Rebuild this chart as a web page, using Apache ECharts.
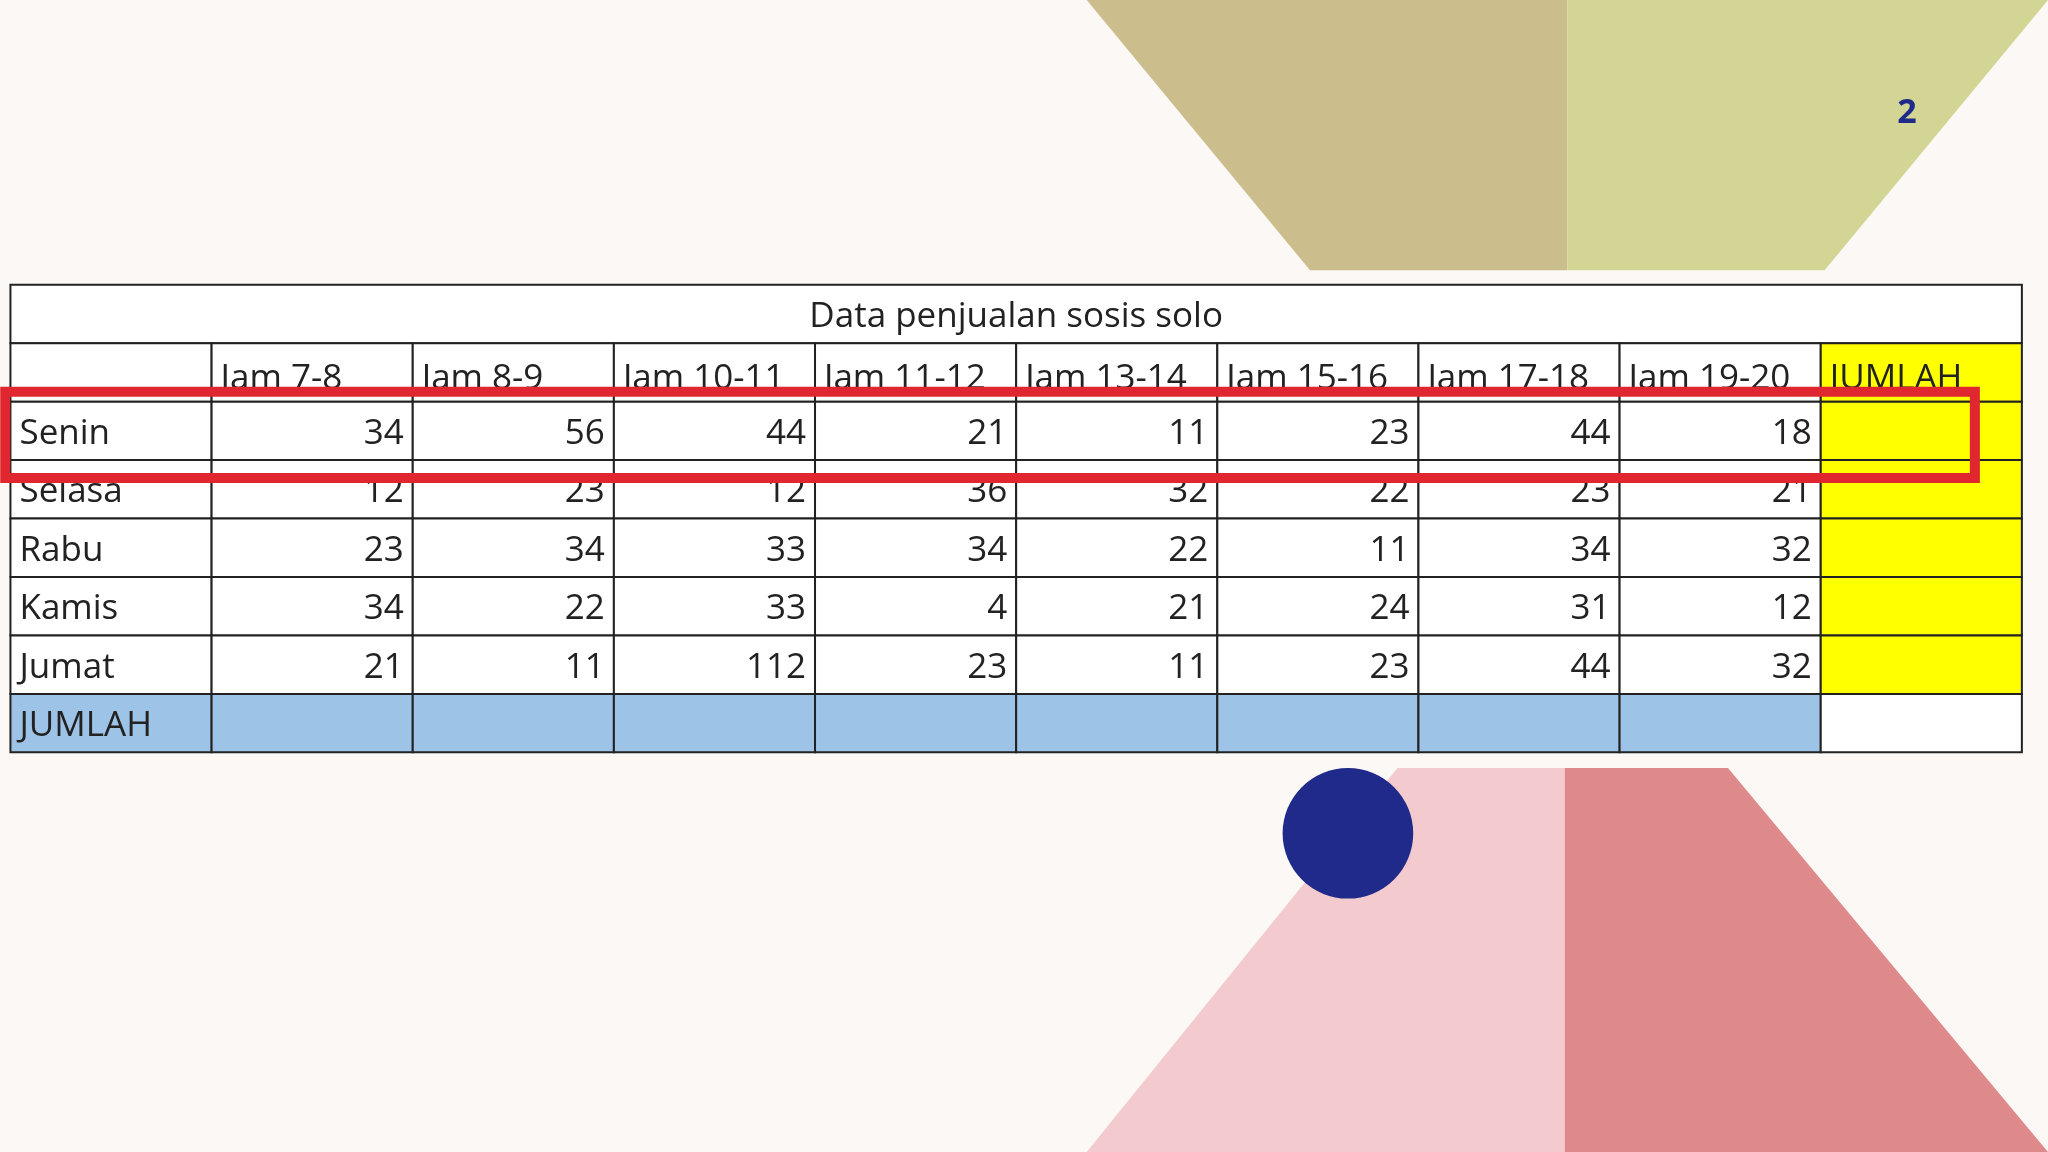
<!DOCTYPE html>
<html><head><meta charset="utf-8">
<script src="https://cdn.jsdelivr.net/npm/echarts@6/dist/echarts.min.js"></script>
<style>html,body{margin:0;padding:0;background:#fcf8f5}#c{width:2048px;height:1152px}</style>
</head><body><div id="c"></div>
<script>
// table data
var title = 'Data penjualan sosis solo';
var hours = ['Jam 7-8','Jam 8-9','Jam 10-11','Jam 11-12','Jam 13-14','Jam 15-16','Jam 17-18','Jam 19-20'];
var days = ['Senin','Selasa','Rabu','Kamis','Jumat'];
var senin  = [34,56,44,21,11,23,44,18];
var selasa = [12,23,12,36,32,22,23,21];
var rabu   = [23,34,33,34,22,11,34,32];
var kamis  = [34,22,33,4,21,24,31,12];
var jumat  = [21,11,112,23,11,23,44,32];
var values = [senin, selasa, rabu, kamis, jumat];

var s = 2048 / 1568; // reference scale
function p(v){ return v * s; }

// cells: [col,row,text,fill,align,kind]
var cells = [];
cells.push([0, 0, title, '#ffffff', 'center', 'title']);
cells.push([0, 1, '', '#ffffff', 'left', 'head']);
hours.forEach(function(h, i){ cells.push([i + 1, 1, h, '#ffffff', 'left', 'head']); });
cells.push([9, 1, 'JUMLAH', '#ffff00', 'left', 'head']);
days.forEach(function(d, r){
  cells.push([0, r + 2, d, '#ffffff', 'left', 'body']);
  values[r].forEach(function(v, i){ cells.push([i + 1, r + 2, String(v), '#ffffff', 'right', 'body']); });
  cells.push([9, r + 2, '', '#ffff00', 'right', 'body']);
});
cells.push([0, 7, 'JUMLAH', '#9dc3e6', 'left', 'body']);
for (var i = 1; i <= 8; i++) cells.push([i, 7, '', '#9dc3e6', 'right', 'body']);
cells.push([9, 7, '', '#ffffff', 'right', 'body']);

var chart = echarts.init(document.getElementById('c'));
chart.setOption({
  backgroundColor: '#fcf8f5',
  animation: false,
  grid: { left: p(8), right: 2048 - p(1548), top: p(218), bottom: 1152 - p(576) },
  xAxis: { type: 'category', data: ['0','1','2','3','4','5','6','7','8','9'], show: false },
  yAxis: { type: 'category', inverse: true, data: ['0','1','2','3','4','5','6','7'], show: false },
  graphic: [
    { type: 'polygon', z: 0, shape: { points: [[p(832),0],[p(1200),0],[p(1200),p(207)],[p(1003),p(207)]] }, style: { fill: '#cbbe8c' } },
    { type: 'polygon', z: 0, shape: { points: [[p(1200),0],[2048,0],[p(1397),p(207)],[p(1200),p(207)]] }, style: { fill: '#d3d595' } },
    { type: 'polygon', z: 0, shape: { points: [[p(1070),p(588)],[p(1198),p(588)],[p(1198),1152],[p(832),1152]] }, style: { fill: '#f3cacd' } },
    { type: 'polygon', z: 0, shape: { points: [[p(1198),p(588)],[p(1323),p(588)],[2048,1152],[p(1198),1152]] }, style: { fill: '#de8a8b' } },
    { type: 'circle', z: 10, shape: { cx: p(1032), cy: p(638), r: p(50) }, style: { fill: '#1f2a8a' } },
    { type: 'text', z: 10, x: p(1460), y: p(87), style: { text: '2', fill: '#1f2a8a', font: 'bold 34px "Open Sans"', align: 'center', verticalAlign: 'middle' } },
    { type: 'rect', z: 100, shape: { x: p(4), y: p(300), width: p(1508), height: p(66) }, style: { fill: 'none', stroke: '#e0262f', lineWidth: 10 } }
  ],
  series: [{
    type: 'custom',
    data: cells,
    renderItem: function(params, api){
      var col = api.value(0), row = api.value(1);
      var kind = cells[params.dataIndex][5];
      var align = cells[params.dataIndex][4];
      var a = api.coord([col, row]);
      var sz = api.size([1, 1]);
      var x = a[0] - sz[0] / 2, y = a[1] - sz[1] / 2, w = sz[0], h = sz[1];
      if (kind === 'title') { x = params.coordSys.x; w = params.coordSys.width; }
      var tx = align === 'center' ? x + w / 2 : (align === 'left' ? x + 9 : x + w - 9);
      var ty = kind === 'head' ? y + h * 0.62 : y + h * 0.55;
      return { type: 'group', children: [
        { type: 'rect', shape: { x: x, y: y, width: w, height: h }, style: { fill: cells[params.dataIndex][3], stroke: '#222', lineWidth: 2 } },
        { type: 'text', style: { x: tx, y: ty, text: cells[params.dataIndex][2], fill: '#222', font: '35px "Open Sans"', align: align, verticalAlign: 'middle' } }
      ]};
    }
  }]
});
</script></body></html>
